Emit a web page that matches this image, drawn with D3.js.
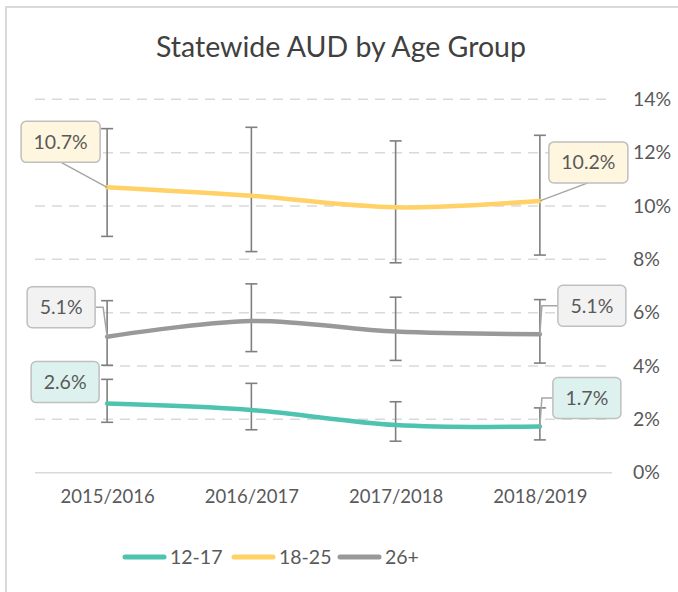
<!DOCTYPE html>
<html>
<head>
<meta charset="utf-8">
<script src="https://cdn.jsdelivr.net/npm/d3@7"></script>
<style>
  body { margin: 0; background: #fff; }
  text { font-family: Lato, "Open Sans", sans-serif; fill: #595959; }
</style>
</head>
<body>
<script>
// chart data
const years = ["2015/2016", "2016/2017", "2017/2018", "2018/2019"];
const groups = ["12-17", "18-25", "26+"];
const colors = ["#4dc3b0", "#ffd166", "#999999"];
const val1217 = [2.59, 2.35, 1.79, 1.73];
const lo1217 = [1.89, 1.61, 1.18, 1.23];
const hi1217 = [3.50, 3.35, 2.66, 2.43];
const val1825 = [10.70, 10.38, 9.95, 10.19];
const lo1825 = [8.86, 8.29, 7.87, 8.16];
const hi1825 = [12.90, 12.95, 12.44, 12.65];
const val26 = [5.10, 5.69, 5.29, 5.19];
const lo26 = [4.03, 4.54, 4.21, 4.11];
const hi26 = [6.45, 7.08, 6.58, 6.49];
const yTicks = [0, 2, 4, 6, 8, 10, 12, 14];
const labelText = [["2.6%", "1.7%"], ["10.7%", "10.2%"], ["5.1%", "5.1%"]];
const labelFill = ["#ddf2ef", "#fff6e0", "#f2f2f2"];

const series = [
  {vals: val1217, lo: lo1217, hi: hi1217},
  {vals: val1825, lo: lo1825, hi: hi1825},
  {vals: val26, lo: lo26, hi: hi26}
];

const W = 678, H = 592;
const svg = d3.select("body").append("svg")
    .attr("width", W)
    .attr("height", H);

// outer frame (only left and top visible)
svg.append("path")
    .attr("d", "M6," + H + " V7 H" + W)
    .attr("fill", "none")
    .attr("stroke", "#d9d9d9")
    .attr("stroke-width", 2);

svg.append("text")
    .attr("x", 341).attr("y", 57)
    .attr("text-anchor", "middle")
    .style("font-size", "28.5px")
    .style("fill", "#404040")
    .text("Statewide AUD by Age Group");

const x = d3.scalePoint().domain(years).range([35, 612]).padding(0.5);
const y = d3.scaleLinear().domain([0, 14]).range([472.7, 99.3]);

// gridlines
svg.append("g").selectAll("line").data(yTicks).enter().append("line")
    .attr("x1", 35).attr("x2", 612)
    .attr("y1", d => y(d)).attr("y2", d => y(d))
    .attr("stroke", "#d9d9d9")
    .attr("stroke-width", 1.5)
    .attr("stroke-dasharray", d => d == 0 ? null : "10,7");

// right axis labels
const yAxis = d3.axisRight(y).tickValues(yTicks).tickFormat(d => d + "%").tickSize(0).tickPadding(0);
const ya = svg.append("g").attr("transform", "translate(633,0)").call(yAxis);
ya.select(".domain").remove();
ya.selectAll("text").style("font-size", "19.5px").style("font-family", "Lato, sans-serif").attr("fill", "#595959");

// bottom axis labels
const xAxis = d3.axisBottom(x).tickSize(0).tickPadding(0);
const xa = svg.append("g").attr("transform", "translate(0,490)").call(xAxis);
xa.select(".domain").remove();
xa.selectAll("text").style("font-size", "18.5px").style("font-family", "Lato, sans-serif").attr("fill", "#595959");

// error bars
series.forEach(function(s) {
  const g = svg.append("g").attr("stroke", "#7f7f7f").attr("stroke-width", 1.6);
  years.forEach(function(yr, i) {
    const cx = x(yr);
    g.append("line").attr("x1", cx).attr("x2", cx).attr("y1", y(s.lo[i])).attr("y2", y(s.hi[i]));
    g.append("line").attr("x1", cx - 6).attr("x2", cx + 6).attr("y1", y(s.lo[i])).attr("y2", y(s.lo[i]));
    g.append("line").attr("x1", cx - 6).attr("x2", cx + 6).attr("y1", y(s.hi[i])).attr("y2", y(s.hi[i]));
  });
});

// lines
const line = d3.line()
    .x((d, i) => x(years[i]))
    .y(d => y(d))
    .curve(d3.curveCatmullRom.alpha(0.5));

series.forEach(function(s, k) {
  svg.append("path")
      .attr("d", line(s.vals))
      .attr("fill", "none")
      .attr("stroke", colors[k])
      .attr("stroke-width", 4.5)
      .attr("stroke-linecap", "round");
});

// data labels: box left/top offsets relative to the point
const boxes = [
  [{dx: -76, dy: -42}, {dx: 13, dy: -49}],
  [{dx: -86, dy: -66}, {dx: 9, dy: -59}],
  [{dx: -80, dy: -50}, {dx: 18, dy: -49}]
];
const bw = 68, bh = 41;

series.forEach(function(s, k) {
  [0, 3].forEach(function(i, j) {
    const px = x(years[i]), py = y(s.vals[i]);
    const b = boxes[k][j];
    const w = labelText[k][j].length > 4 ? 79 : bw;
    const bx = px + b.dx, by = py + b.dy;
    let lead = null;
    if (k == 1) {
      // diagonal leader from box bottom
      lead = j == 0 ? [[bx + 40, by + bh], [px, py]] : [[bx + 39, by + bh], [px, py]];
    } else if (!(k == 0 && j == 0)) {
      const ey = by + bh / 2;
      lead = j == 0 ? [[bx + w, ey], [px - 4, ey], [px, py]] : [[bx, ey], [px + 2, ey], [px, py]];
    }
    if (lead) {
      svg.append("path")
          .attr("d", d3.line()(lead))
          .attr("fill", "none")
          .attr("stroke", "#a6a6a6")
          .attr("stroke-width", 1.5);
    }
    svg.append("rect")
        .attr("x", bx).attr("y", by)
        .attr("width", w).attr("height", bh)
        .attr("rx", 5)
        .attr("fill", labelFill[k])
        .attr("stroke", "#bfbfbf")
        .attr("stroke-width", 1.5);
    svg.append("text")
        .attr("x", bx + w / 2).attr("y", by + bh / 2 + 7)
        .attr("text-anchor", "middle")
        .style("font-size", "19.5px")
        .text(labelText[k][j]);
  });
});

// legend
const legX = [123, 232, 338];
const leg = svg.append("g");
groups.forEach(function(gname, k) {
  leg.append("line")
      .attr("x1", legX[k] + 2).attr("x2", legX[k] + 41)
      .attr("y1", 557).attr("y2", 557)
      .attr("stroke", colors[k])
      .attr("stroke-width", 5)
      .attr("stroke-linecap", "round");
  leg.append("text")
      .attr("x", legX[k] + 47).attr("y", 564)
      .style("font-size", "19.5px")
      .text(gname);
});
</script>
</body>
</html>
